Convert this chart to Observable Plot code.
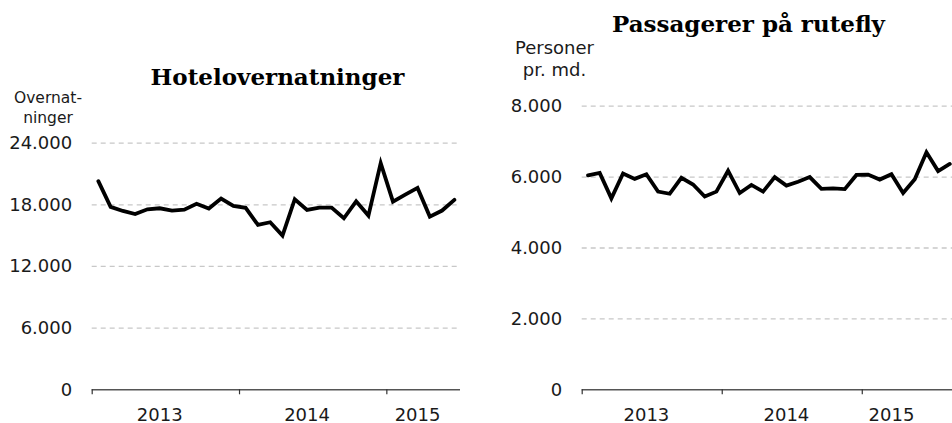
<!DOCTYPE html>
<html>
<head>
<meta charset="utf-8">
<script src="https://cdn.jsdelivr.net/npm/d3@7"></script>
<script src="https://cdn.jsdelivr.net/npm/@observablehq/plot@0.6"></script>
<style>
  html, body { margin: 0; padding: 0; background: #fff; }
  body { width: 952px; height: 423px; overflow: hidden; position: relative; }
  #left, #right { position: absolute; top: 0; }
  #left { left: 0; width: 480px; }
  #right { left: 476px; width: 520px; }
  svg { max-width: none !important; }
</style>
</head>
<body>
<div id="left"></div>
<div id="right"></div>
<script>
// Months (categories)
const months = [
  "2013-01","2013-02","2013-03","2013-04","2013-05","2013-06","2013-07","2013-08","2013-09","2013-10","2013-11","2013-12",
  "2014-01","2014-02","2014-03","2014-04","2014-05","2014-06","2014-07","2014-08","2014-09","2014-10","2014-11","2014-12",
  "2015-01","2015-02","2015-03","2015-04","2015-05","2015-06","2015-07","2015-08"
];
// Hotelovernatninger (Jan 2013 – Jun 2015)
const hotelValues = [
  20300, 17800, 17400, 17100, 17560, 17660, 17440, 17530, 18090, 17630, 18600, 17890,
  17700, 16050, 16300, 15000, 18540, 17500, 17730, 17730, 16690, 18340, 16950, 22050,
  18310, 18990, 19640, 16850, 17440, 18480
];
// Passagerer på rutefly (Jan 2013 – Aug 2015, cut at the right edge)
const flightValues = [
  6050, 6120, 5400, 6100, 5950, 6080, 5590, 5530, 5980, 5790, 5450, 5590,
  6180, 5550, 5780, 5590, 6000, 5760, 5870, 6000, 5670, 5680, 5660, 6060,
  6070, 5930, 6080, 5550, 5940, 6700, 6170, 6370
];
const years = ["2013", "2014", "2015"];
const hotelTicks = [0, 6000, 12000, 18000, 24000];
const flightTicks = [0, 2000, 4000, 6000, 8000];

const fmt = d3.formatLocale({decimal: ",", thousands: ".", grouping: [3]}).format(",d");
const idx = m => (+m.slice(0, 4) - 2013) * 12 + (+m.slice(5, 7) - 1);

const hotelData = hotelValues.map((v, i) => ({i: idx(months[i]) + 0.5, v}));
const flightData = flightValues.map((v, i) => ({i: idx(months[i]) + 0.5, v}));

// year label positions: middle of the months shown for each year in the panels
const nShown = hotelValues.length;
const yearLabels = years.map((y, k) => {
  const start = k * 12, end = Math.min(start + 12, nShown);
  return {x: (start + end) / 2 - 0.5, label: y};
});
const yearStarts = years.map((y, k) => k * 12);

const FONT = "DejaVu Sans, Verdana, sans-serif";
const SERIF = "DejaVu Serif, serif";

function panel({data, ticks, yMax, xMax, width, ml, mr, mt, title, titleDx, titleDy, unit, unitDx, unitDy, unitSize, unitLH}) {
  return Plot.plot({
    width, height: 423,
    marginLeft: ml, marginRight: mr, marginTop: mt, marginBottom: 33.7,
    style: {fontFamily: FONT, fontSize: "18px", color: "#1a1a1a", background: "transparent", overflow: "visible", maxWidth: "none"},
    x: {domain: [0, xMax], axis: null},
    y: {domain: [0, yMax], axis: null},
    marks: [
      Plot.gridY(ticks.filter(t => t > 0), {stroke: "#c8c8c8", strokeOpacity: 1, strokeWidth: 1.3, strokeDasharray: "5,4"}),
      Plot.axisY(ticks, {label: null, tickSize: 0, tickPadding: 20, tickFormat: fmt, fontSize: 18, fill: "#1a1a1a", fontFamily: FONT}),
      Plot.ruleY([0], {stroke: "#555", strokeWidth: 1.5}),
      Plot.axisX(yearStarts, {label: null, tickSize: 5, tickFormat: () => "", stroke: "#333", strokeWidth: 1.2}),
      Plot.text(yearLabels, {x: "x", text: "label", frameAnchor: "bottom", lineAnchor: "bottom", dy: 31, fontSize: 18, fill: "#1a1a1a", fontFamily: FONT}),
      Plot.line(data, {x: "i", y: "v", stroke: "#000", strokeWidth: 3.8, strokeLinejoin: "miter", strokeMiterlimit: 4}),
      Plot.text([title], {frameAnchor: "top-left", textAnchor: "middle", lineAnchor: "bottom", dx: titleDx, dy: titleDy, fontFamily: SERIF, fontWeight: "bold", fontSize: 23, fill: "#000"}),
      Plot.text([unit], {frameAnchor: "top-left", textAnchor: "middle", lineAnchor: "bottom", lineHeight: unitLH, dx: unitDx, dy: unitDy, fontSize: unitSize, fill: "#1a1a1a", fontFamily: FONT})
    ]
  });
}

document.getElementById("left").append(panel({
  data: hotelData, ticks: hotelTicks, yMax: 24000, xMax: 30,
  width: 480, ml: 91.7, mr: 20, mt: 142.6,
  title: "Hotelovernatninger", titleDx: 185.3, titleDy: -58.6,
  unit: "Overnat-\nninger", unitDx: -44.2, unitDy: -20.6, unitSize: 15.5, unitLH: 1.26
}));
document.getElementById("right").append(panel({
  data: flightData, ticks: flightTicks, yMax: 8000, xMax: 33,
  width: 105.7 + 33 * 11.67, ml: 105.7, mr: 0, mt: 105.7,
  title: "Passagerer på rutefly", titleDx: 166.3, titleDy: -73.7,
  unit: "Personer\npr. md.", unitDx: -27.7, unitDy: -29.7, unitSize: 18, unitLH: 1.25
}));
</script>
</body>
</html>
